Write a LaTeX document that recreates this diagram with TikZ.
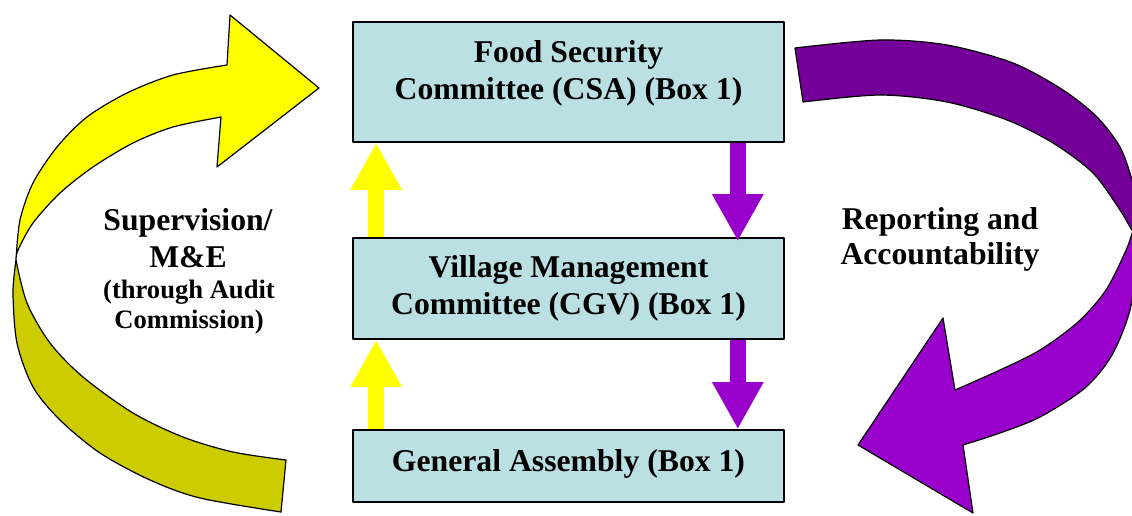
\documentclass[tikz,border=0pt]{standalone}
\usepackage{fontspec}
\setmainfont{Liberation Serif}
\usetikzlibrary{arrows.meta}
\definecolor{boxblue}{HTML}{BBE0E3}
\definecolor{brightyellow}{HTML}{FFFF00}
\definecolor{darkyellow}{HTML}{CCCC00}
\definecolor{brightpurple}{HTML}{9900CC}
\definecolor{darkpurple}{HTML}{740099}
\tikzset{
	box/.style={draw=black, fill=boxblue, line width=1.6pt, minimum width=431pt, inner sep=0pt},
	boxtext/.style={anchor=north, align=center, inner sep=0pt, font=\fontsize{31.7}{37}\selectfont\bfseries},
	sidetext/.style={anchor=north, align=center, inner sep=0pt},
	uparrow/.style={draw=brightyellow, line width=16pt, -{Triangle[length=47pt,width=48pt]}},
	downarrow/.style={draw=brightpurple, line width=16pt, -{Triangle[length=47pt,width=48pt]}},
	band/.style={draw=black, line width=1.2pt}
}
\begin{document}
\begin{tikzpicture}[x=1pt, y=-1pt, line join=round]
					\clip (0,0) rectangle (1132,515);
					\filldraw[band, fill=darkyellow] plot[smooth] coordinates {(16,260) (13,293) (17,343) (33,387) (60,420) (100,453) (150,480) (200,498) (281,512)} -- (286,460) -- plot[smooth] coordinates {(286,460) (233,452) (183,437) (133,413) (83,377) (50,343) (27,303) (16,260)} -- cycle;
					\filldraw[band, fill=brightyellow] plot[smooth] coordinates {(16,260) (20,220) (33,183) (57,147) (87,117) (127,93) (173,75) (227,65)} -- (230,15) -- (319,88) -- (217,167) -- (221,117) -- plot[smooth] coordinates {(221,117) (173,127) (133,143) (93,167) (60,193) (33,223) (18,250) (16,260)} -- cycle;
					\filldraw[band, fill=darkpurple] plot[smooth] coordinates {(795,48) (880,40) (947,45) (1013,63) (1063,90) (1097,117) (1120,147) (1132,180) (1140,215)} -- (1142,240) -- plot[smooth] coordinates {(1142,240) (1132,230) (1120,210) (1093,173) (1053,143) (1007,120) (947,102) (880,95) (803,102)} -- cycle;
					\filldraw[band, fill=brightpurple] plot[smooth] coordinates {(1142,226) (1136,262) (1130,310) (1112,355) (1085,388) (1040,417) (1000,433) (963,445)} -- (973,513) -- (858,445) -- (943,318) -- (955,390) -- plot[smooth] coordinates {(955,390) (1000,370) (1040,350) (1078,322) (1106,290) (1127,248) (1134,226)} -- cycle;
					\node (fsc) at (568.5,82) [box, minimum height=120pt] {};
					\node (cgv) at (568.5,288.5) [box, minimum height=101pt] {};
					\node (ga) at (568.5,466) [box, minimum height=72pt] {};
					\node (fsctext) at (568.5,40.6) [boxtext] {Food Security\\Committee (CSA) (Box 1)};
					\node (cgvtext) at (568.5,255.6) [boxtext] {Village Management\\Committee (CGV) (Box 1)};
					\node (gatext) at (568.5,449.1) [boxtext] {General Assembly (Box 1)};
					\draw[uparrow] ([xshift=24pt]cgv.north west) -- ([xshift=24pt]fsc.south west);
					\draw[uparrow] ([xshift=24pt]ga.north west) -- ([xshift=24pt]cgv.south west);
					\draw[downarrow] ([xshift=-47pt]fsc.south east) -- ([xshift=-47pt,yshift=-4pt]cgv.north east);
					\draw[downarrow] ([xshift=-47pt]cgv.south east) -- ([xshift=-47pt]ga.north east);
					\node (supervision) at (188,208.1) [sidetext, font=\fontsize{31.7}{37}\selectfont\bfseries] {Supervision/\\M\&E};
					\node (audit) at (189,279.6) [sidetext, font=\fontsize{26.6}{30}\selectfont\bfseries] {(through Audit\\Commission)};
					\node (reporting) at (940,207.6) [sidetext, font=\fontsize{31.7}{35}\selectfont\bfseries] {Reporting and\\Accountability};
				\end{tikzpicture}
\end{document}
